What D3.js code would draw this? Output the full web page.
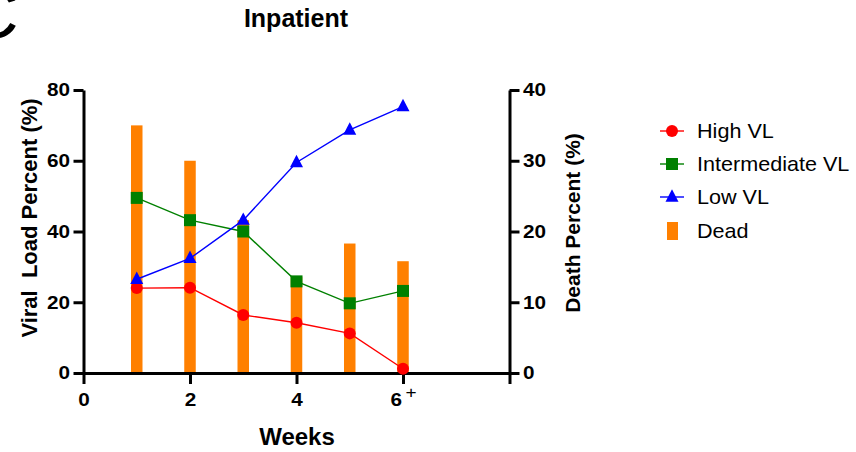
<!DOCTYPE html>
<html><head><meta charset="utf-8">
<script src="https://cdn.jsdelivr.net/npm/d3@7"></script>
<style>
body{margin:0;background:#fff}
svg{display:block}
text{font-family:"Liberation Sans",Arial,Helvetica,sans-serif}
</style>
</head><body>
<svg id="c" width="856" height="452"></svg>
<script>
// ---- data ----
const weeks = [1, 2, 3, 4, 5, 6];
const highVL = [24.0, 24.1, 16.4, 14.2, 11.2, 1.2];
const intermediateVL = [49.5, 43.2, 40.0, 25.9, 19.7, 23.2];
const lowVL = [26.5, 32.4, 43.2, 59.5, 68.7, 75.3];
const deadPct = [35.0, 30.0, 21.6, 13.6, 18.3, 15.8];
const xTickValues = [0, 2, 4, 6, 8];
const xTickLabels = ["0", "2", "4", "6", ""];
const leftTickValues = [0, 20, 40, 60, 80];
const rightTickValues = [0, 10, 20, 30, 40];
const seriesNames = ["High VL", "Intermediate VL", "Low VL", "Dead"];

// ---- styles ----
const RED = "#ff0000", GREEN = "#008000", BLUE = "#0000ff", ORANGE = "#ff8000";

const svg = d3.select("#c");
const x = d3.scaleLinear().domain([0, 8]).range([83.5, 509.5]);
const yL = d3.scaleLinear().domain([0, 80]).range([373, 90]);
const yR = d3.scaleLinear().domain([0, 40]).range([373, 90]);

// panel letter (cropped at the edge as in the source figure)
svg.append("text").attr("transform", "translate(-34,38) scale(1.3,1.25)").attr("font-size", 56)
  .attr("fill", "#000").text("C");

// title
svg.append("text").attr("x", 296).attr("y", 27).attr("text-anchor", "middle")
  .attr("font-size", 25).attr("font-weight", "bold").text("Inpatient");

// bars
const barW = 11.5;
svg.append("g").selectAll("rect").data(weeks).join("rect")
  .attr("x", d => x(d) - barW / 2)
  .attr("width", barW)
  .attr("y", (d, i) => yR(deadPct[i]))
  .attr("height", (d, i) => yR(0) - yR(deadPct[i]))
  .attr("fill", ORANGE);

// axes
function styleAxis(g, fs) {
  g.select(".domain").attr("stroke", "#000").attr("stroke-width", 3);
  g.selectAll(".tick line").attr("stroke", "#000").attr("stroke-width", 3);
  g.selectAll(".tick text").attr("fill", "#000").attr("font-size", fs)
    .attr("font-weight", "bold").attr("font-family", '"Liberation Sans",Arial,sans-serif');
}
const gx = svg.append("g").attr("transform", "translate(0,373)")
  .call(d3.axisBottom(x).tickValues(xTickValues).tickSize(11).tickSizeOuter(0).tickPadding(9)
    .tickFormat((d, i) => xTickLabels[i]));
styleAxis(gx, 18.5);
gx.selectAll(".tick text").attr("transform", "scale(1.12,1)");
gx.selectAll(".tick text").filter(d => d === 6).append("tspan")
  .attr("dx", 3).attr("dy", "-0.5em").attr("font-size", 17).attr("font-weight", "normal").text("+");

const gl = svg.append("g").attr("transform", `translate(${x(0)},0)`)
  .call(d3.axisLeft(yL).tickValues(leftTickValues).tickSize(10).tickSizeOuter(0).tickPadding(2));
styleAxis(gl, 18.5);
gl.selectAll(".tick text").attr("transform", "scale(1.12,1)");

const gr = svg.append("g").attr("transform", `translate(${x(8)},0)`)
  .call(d3.axisRight(yR).tickValues(rightTickValues).tickSize(10).tickSizeOuter(0).tickPadding(2));
styleAxis(gr, 18.5);
gr.selectAll(".tick text").attr("transform", "scale(1.12,1)");

// axis titles
svg.append("text").attr("transform", "translate(37,218) rotate(-90)")
  .attr("text-anchor", "middle").attr("font-size", 22).attr("font-weight", "bold")
  .text("Viral\u00a0\u00a0Load Percent (%)");
svg.append("text").attr("transform", "translate(580,223) rotate(-90)")
  .attr("text-anchor", "middle").attr("font-size", 21).attr("font-weight", "bold")
  .text("Death Percent (%)");
svg.append("text").attr("x", 297).attr("y", 445).attr("text-anchor", "middle")
  .attr("font-size", 24).attr("font-weight", "bold").text("Weeks");

// lines
const line = vals => d3.line().x((d, i) => x(weeks[i])).y(d => yL(d))(vals);
const series = [
  {vals: highVL, color: RED, shape: "circle"},
  {vals: intermediateVL, color: GREEN, shape: "square"},
  {vals: lowVL, color: BLUE, shape: "triangle"}
];
const tri = s => `M0,${-s * 0.6}L${s / 2},${s * 0.36}L${-s / 2},${s * 0.36}Z`;
function marker(g, shape, color) {
  if (shape === "circle") g.append("circle").attr("r", 6).attr("fill", color);
  else if (shape === "square") g.append("rect").attr("x", -6).attr("y", -6).attr("width", 12).attr("height", 12).attr("fill", color);
  else g.append("path").attr("d", tri(13)).attr("fill", color);
}
series.forEach(s => {
  svg.append("path").attr("d", line(s.vals)).attr("fill", "none")
    .attr("stroke", s.color).attr("stroke-width", 1.4);
  s.vals.forEach((v, i) => {
    const g = svg.append("g").attr("transform", `translate(${x(weeks[i])},${yL(v)})`);
    marker(g, s.shape, s.color);
  });
});

// legend
const legY = [131, 164, 197, 231];
const colors = [RED, GREEN, BLUE, ORANGE];
const shapes = ["circle", "square", "triangle", "bar"];
seriesNames.forEach((name, i) => {
  const g = svg.append("g").attr("transform", `translate(672,${legY[i]})`);
  if (shapes[i] === "bar") {
    g.append("rect").attr("x", -5).attr("y", -9).attr("width", 11).attr("height", 18).attr("fill", ORANGE);
  } else {
    g.append("line").attr("x1", -12).attr("x2", 12).attr("stroke", colors[i]).attr("stroke-width", 1.4);
    marker(g, shapes[i], colors[i]);
  }
  svg.append("text").attr("transform", `translate(697,${legY[i] + 7}) scale(1.08,1)`)
    .attr("font-size", 20).attr("fill", "#000").text(name);
});
</script>
</body></html>
